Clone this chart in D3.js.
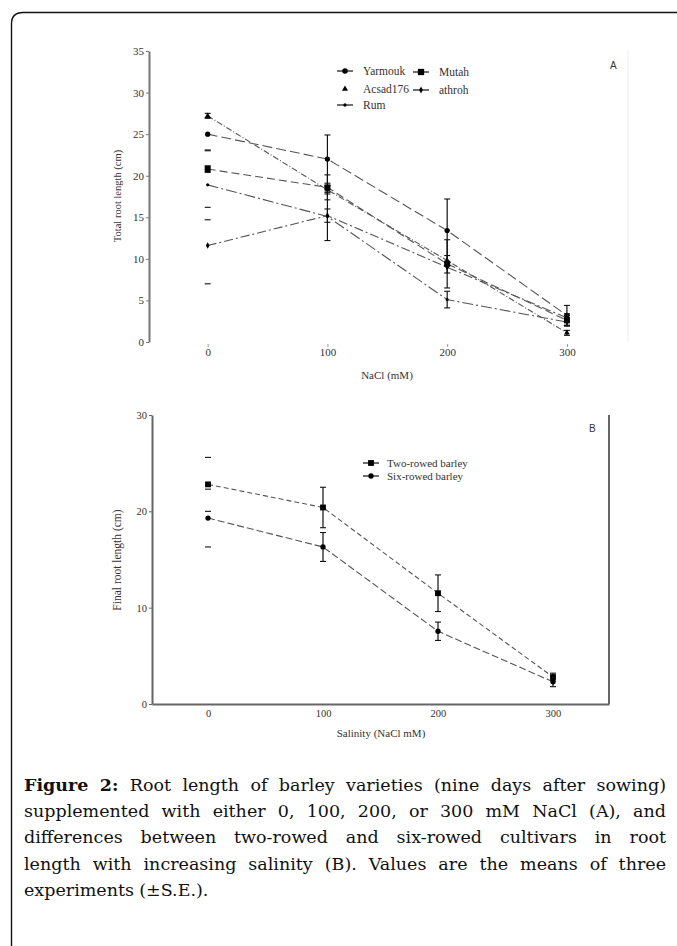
<!DOCTYPE html>
<html lang="en">
<head>
<meta charset="UTF-8">
<title>Figure 2</title>
<style>
  body { margin: 0; background: #fff; }
  svg { display: block; }
</style>
</head>
<body>
<svg width="677" height="946"></svg>
<script src="https://d3js.org/d3.v7.min.js"></script>
<script>
var nacl = [0, 100, 200, 300];

// panel A: five varieties, total root length (cm) and S.E.
var varietiesA = ["Yarmouk", "Acsad176", "Rum", "Mutah", "athroh"];
var yarmouk   = [25.0, 22.0, 13.4, 3.2], yarmoukSE  = [2.0, 2.9, 3.8, 1.2];
var acsad176  = [27.2, 18.3, 9.8, 1.1],  acsad176SE = [0.3, 0.5, 0.6, 0.3];
var rum       = [18.9, 15.1, 5.1, 2.4],  rumSE      = [4.2, 2.9, 1.0, 0.5];
var mutah     = [20.8, 18.6, 9.4, 2.6],  mutahSE    = [0.4, 1.5, 2.9, 0.6];
var athroh    = [11.6, 15.2, 9.0, 2.9],  athrohSE   = [4.6, 0.8, 0.7, 0.5];
var ticksA = [0, 5, 10, 15, 20, 25, 30, 35];

// panel B: two-rowed vs six-rowed, final root length (cm)
var rowTypes = ["Two-rowed barley", "Six-rowed barley"];
var twoRowed = [22.8, 20.4, 11.5, 2.8], twoRowedSE = [2.8, 2.1, 1.9, 0.4];
var sixRowed = [19.3, 16.3, 7.55, 2.3], sixRowedSE = [3.0, 1.5, 0.95, 0.5];
var ticksB = [0, 10, 20, 30];

var captionLines = [
    "Figure 2: Root length of barley varieties (nine days after sowing)",
    "supplemented with either 0, 100, 200, or 300 mM NaCl (A), and",
    "differences between two-rowed and six-rowed cultivars in root",
    "length with increasing salinity (B). Values are the means of three",
    "experiments (\u00b1S.E.)."
];

var svg = d3.select('svg');
var serif = "'Liberation Serif', 'Times New Roman', serif";
var lineCol = '#555';

svg.append('rect').attr('width', 677).attr('height', 946).attr('fill', '#fff');

// page frame with rounded top-left corner
svg.append('path')
    .attr('d', 'M11.5,946 V24 Q11.5,12.5 23,12.5 H680')
    .attr('fill', 'none').attr('stroke', '#111').attr('stroke-width', 1.4);

var seriesA = [
    {name: varietiesA[0], v: yarmouk,  se: yarmoukSE,  sym: d3.symbolCircle,   size: 22, dash: '10,4'},
    {name: varietiesA[1], v: acsad176, se: acsad176SE, sym: d3.symbolTriangle, size: 14, dash: '6,2,1,2'},
    {name: varietiesA[2], v: rum,      se: rumSE,      sym: d3.symbolCircle,   size: 8,  dash: '11,3,2,3'},
    {name: varietiesA[3], v: mutah,    se: mutahSE,    sym: d3.symbolSquare,   size: 36, dash: '8,4'},
    {name: varietiesA[4], v: athroh,   se: athrohSE,   sym: d3.symbolDiamond,  size: 12, dash: '9,3,2,3'}
];
var seriesB = [
    {name: rowTypes[0], v: twoRowed, se: twoRowedSE, sym: d3.symbolSquare, size: 34, dash: '5,3'},
    {name: rowTypes[1], v: sixRowed, se: sixRowedSE, sym: d3.symbolCircle, size: 22, dash: '7,3'}
];

function drawSeries(g, series, x, y) {
    var line = d3.line().x(function(d, i) { return x(nacl[i]); }).y(function(d) { return y(d); });
    series.forEach(function(s) {
        g.append('path').datum(s.v)
            .attr('d', line)
            .attr('fill', 'none').attr('stroke', lineCol)
            .attr('stroke-width', 1.1).attr('stroke-dasharray', s.dash);
    });
    series.forEach(function(s) {
        s.v.forEach(function(val, i) {
            var cx = x(nacl[i]), top = y(val + s.se[i]), bot = y(val - s.se[i]);
            // the stems at 0 mM are not shown in the original, only the caps
            if (i > 0) {
                g.append('line').attr('x1', cx).attr('x2', cx).attr('y1', top).attr('y2', bot)
                    .attr('stroke', '#111').attr('stroke-width', 1.2);
            }
            [top, bot].forEach(function(cy) {
                g.append('line').attr('x1', cx - 3).attr('x2', cx + 3).attr('y1', cy).attr('y2', cy)
                    .attr('stroke', '#111').attr('stroke-width', 1.1);
            });
        });
        g.selectAll(null).data(s.v).enter().append('path')
            .attr('d', d3.symbol().type(s.sym).size(s.size))
            .attr('transform', function(d, i) { return 'translate(' + x(nacl[i]) + ',' + y(d) + ')'; })
            .attr('fill', '#000');
    });
}

function styleAxis(ax, col, w) {
    ax.selectAll('.domain').attr('stroke', col).attr('stroke-width', w);
    ax.selectAll('.tick line').attr('stroke', col);
    ax.selectAll('text').attr('font-family', serif).attr('fill', '#333');
}

// ---------------- panel A ----------------
var xA = d3.scaleLinear().domain([-49, 351]).range([149, 628]);
var yA = d3.scaleLinear().domain([0, 35]).range([342, 51]);
var gA = svg.append('g');

gA.append('line').attr('x1', xA.range()[1]).attr('x2', xA.range()[1])
    .attr('y1', yA(0)).attr('y2', yA(35)).attr('stroke', '#eee');

var axYA = gA.append('g').attr('transform', 'translate(149,0)')
    .call(d3.axisLeft(yA).tickValues(ticksA).tickSize(3).tickSizeOuter(0).tickPadding(2));
styleAxis(axYA, '#777', 2);
axYA.selectAll('text').attr('font-size', 11);

var axXA = gA.append('g').attr('transform', 'translate(0,342)')
    .call(d3.axisBottom(xA).tickValues(nacl).tickSize(4).tickPadding(2));
axXA.select('.domain').remove();
styleAxis(axXA, '#999', 1);
axXA.selectAll('.tick line').attr('y1', 2).attr('y2', 5);
axXA.selectAll('text').attr('font-size', 11);

gA.append('text').attr('x', 387).attr('y', 379).attr('text-anchor', 'middle')
    .attr('font-family', serif).attr('font-size', 11).attr('fill', '#333').text('NaCl (mM)');
gA.append('text').attr('transform', 'translate(121,196) rotate(-90)').attr('text-anchor', 'middle')
    .attr('font-family', serif).attr('font-size', 10.5).attr('fill', '#333').text('Total root length (cm)');
gA.append('text').attr('x', 610).attr('y', 69).attr('font-family', 'Arial, sans-serif')
    .attr('font-size', 10).attr('fill', '#333').text('A');

drawSeries(gA, seriesA, xA, yA);

// legend A
var legA = [
    {s: seriesA[0], x: 345, y: 71, seg: true},
    {s: seriesA[1], x: 345, y: 89, seg: false},
    {s: seriesA[2], x: 345, y: 105, seg: true},
    {s: seriesA[3], x: 421, y: 72, seg: true},
    {s: seriesA[4], x: 421, y: 90, seg: true}
];
legA.forEach(function(l) {
    if (l.seg) {
        gA.append('line').attr('x1', l.x - 8).attr('x2', l.x + 8).attr('y1', l.y).attr('y2', l.y)
            .attr('stroke', '#111').attr('stroke-width', 1.2);
    }
    gA.append('path').attr('d', d3.symbol().type(l.s.sym).size(l.s.size * 1.1))
        .attr('transform', 'translate(' + l.x + ',' + l.y + ')').attr('fill', '#000');
    gA.append('text').attr('x', l.x + 18).attr('y', l.y + 4)
        .attr('font-family', serif).attr('font-size', 11.5).attr('fill', '#333').text(l.s.name);
});

// ---------------- panel B ----------------
var xB = d3.scaleLinear().domain([-48.7, 348.7]).range([152, 609]);
var yB = d3.scaleLinear().domain([0, 30]).range([704, 415]);
var gB = svg.append('g');

var axYB = gB.append('g').attr('transform', 'translate(152,0)')
    .call(d3.axisLeft(yB).tickValues(ticksB).tickSize(3).tickSizeOuter(0).tickPadding(2));
styleAxis(axYB, '#666', 2);
axYB.selectAll('text').attr('font-size', 10.5);

var axXB = gB.append('g').attr('transform', 'translate(0,704)')
    .call(d3.axisBottom(xB).tickValues(nacl).tickSize(0).tickSizeOuter(0).tickPadding(6));
styleAxis(axXB, '#666', 2);
axXB.selectAll('text').attr('font-size', 10.5);

gB.append('line').attr('x1', xB.range()[1]).attr('x2', xB.range()[1])
    .attr('y1', yB(0)).attr('y2', yB(30)).attr('stroke', '#666').attr('stroke-width', 2);

gB.append('text').attr('x', 381).attr('y', 737).attr('text-anchor', 'middle')
    .attr('font-family', serif).attr('font-size', 11).attr('fill', '#333').text('Salinity (NaCl mM)');
gB.append('text').attr('transform', 'translate(121,560) rotate(-90)').attr('text-anchor', 'middle')
    .attr('font-family', serif).attr('font-size', 11.5).attr('fill', '#333').text('Final root length (cm)');
gB.append('text').attr('x', 589).attr('y', 432).attr('font-family', 'Arial, sans-serif')
    .attr('font-size', 10).attr('fill', '#333').text('B');

drawSeries(gB, seriesB, xB, yB);

seriesB.forEach(function(s, i) {
    var lx = 371, ly = 463 + i * 13;
    gB.append('line').attr('x1', lx - 8).attr('x2', lx + 8).attr('y1', ly).attr('y2', ly)
        .attr('stroke', '#111').attr('stroke-width', 1.2);
    gB.append('path').attr('d', d3.symbol().type(s.sym).size(s.size))
        .attr('transform', 'translate(' + lx + ',' + ly + ')').attr('fill', '#000');
    gB.append('text').attr('x', lx + 16).attr('y', ly + 4)
        .attr('font-family', serif).attr('font-size', 11).attr('fill', '#333').text(s.name);
});

// ---------------- caption ----------------
var capFont = "'DejaVu Serif', serif", capSize = 17.5;
var capLeft = 24, capRight = 666;
captionLines.forEach(function(str, li) {
    var y = 791 + li * 26.2;
    var words = str.split(' ');
    var nodes = words.map(function(w, wi) {
        return svg.append('text').attr('y', y)
            .attr('font-family', capFont).attr('font-size', capSize)
            .attr('font-weight', (li === 0 && wi < 2) ? 'bold' : 'normal')
            .attr('fill', '#111').text(w);
    });
    var widths = nodes.map(function(n) { return n.node().getComputedTextLength(); });
    var total = d3.sum(widths);
    var last = li === captionLines.length - 1;
    var gap = last ? capSize * 0.3 : (capRight - capLeft - total) / (words.length - 1);
    var x = capLeft;
    nodes.forEach(function(n, i) { n.attr('x', x); x += widths[i] + gap; });
});
</script>
</body>
</html>
